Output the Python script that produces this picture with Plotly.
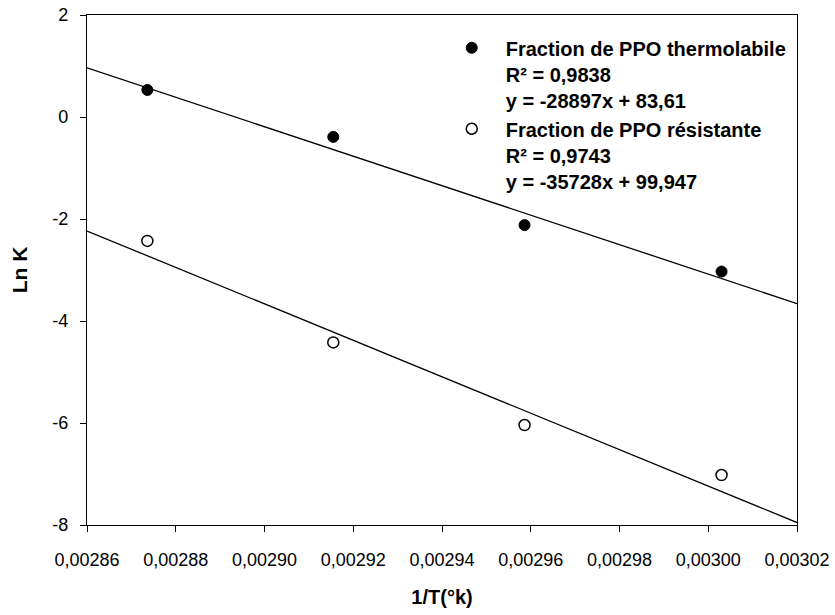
import numpy as np
import plotly.graph_objects as go

# 1/T (K^-1) and Ln K for the two PPO fractions
inv_T = [0.0028736, 0.0029155, 0.0029586, 0.0030030]
lnk_thermolabile = [0.53, -0.39, -2.12, -3.03]
lnk_resistante = [-2.43, -4.42, -6.04, -7.02]

# Linear regression coefficients (slope, intercept) and R²
fit_thermolabile = (-28897, 83.61)
fit_resistante = (-35728, 99.947)
r2_thermolabile = "0,9838"
r2_resistante = "0,9743"

x_range = [0.00286, 0.00302]
y_range = [-8, 2]
x_ticks = [0.00286, 0.00288, 0.00290, 0.00292, 0.00294, 0.00296, 0.00298, 0.00300, 0.00302]
x_ticklabels = ["0,00286", "0,00288", "0,00290", "0,00292", "0,00294",
                "0,00296", "0,00298", "0,00300", "0,00302"]
y_ticks = [-8, -6, -4, -2, 0, 2]
y_ticklabels = ["-8", "-6", "-4", "-2", "0", "2"]

FONT = "Liberation Sans, Arial, sans-serif"

xl = np.array(x_range)


def fit_line(coef):
    return coef[0] * xl + coef[1]


fig = go.Figure()

fig.add_trace(go.Scatter(
    x=xl, y=fit_line(fit_thermolabile), mode="lines",
    line=dict(color="black", width=1.3), showlegend=False, hoverinfo="skip"))
fig.add_trace(go.Scatter(
    x=xl, y=fit_line(fit_resistante), mode="lines",
    line=dict(color="black", width=1.3), showlegend=False, hoverinfo="skip"))

fig.add_trace(go.Scatter(
    x=inv_T, y=lnk_thermolabile, mode="markers", legendgroup="fits",
    marker=dict(symbol="circle", size=11, color="black",
                line=dict(color="black", width=1)),
    name=("Fraction de PPO thermolabile<br>R² = " + r2_thermolabile +
          "<br>y = -28897x + 83,61")))
fig.add_trace(go.Scatter(
    x=inv_T, y=lnk_resistante, mode="markers", legendgroup="fits",
    marker=dict(symbol="circle-open", size=11, color="black",
                line=dict(color="black", width=1.5)),
    name=("Fraction de PPO résistante<br>R² = " + r2_resistante +
          "<br>y = -35728x + 99,947")))

fig.update_layout(
    template="none",
    width=835, height=615,
    margin=dict(l=87, r=38, t=15, b=90, pad=0),
    paper_bgcolor="white", plot_bgcolor="white",
    font=dict(family=FONT, color="black", size=18),
    legend=dict(
        x=0.494, y=0.974, xanchor="left", yanchor="top",
        bgcolor="rgba(0,0,0,0)", borderwidth=0,
        font=dict(family=FONT, size=20, color="black", weight="bold"),
        valign="top", tracegroupgap=0, itemwidth=58,
    ),
    xaxis=dict(
        range=x_range, tickvals=x_ticks, ticktext=x_ticklabels,
        ticks="outside", ticklen=6, tickwidth=1.3, tickcolor="black",
        showline=True, linecolor="black", linewidth=1.3, mirror=True,
        showgrid=False, zeroline=False, automargin=False,
        ticklabelstandoff=12,
        tickfont=dict(family=FONT, size=18),
        title=dict(text="1/T(°k)", font=dict(family=FONT, size=20, weight="bold"),
                   standoff=21),
    ),
    yaxis=dict(
        range=y_range, tickvals=y_ticks, ticktext=y_ticklabels,
        ticks="outside", ticklen=6, tickwidth=1.3, tickcolor="black",
        showline=True, linecolor="black", linewidth=1.3, mirror=True,
        showgrid=False, zeroline=False, automargin=False,
        ticklabelstandoff=8,
        tickfont=dict(family=FONT, size=18),
        title=dict(text="Ln K", font=dict(family=FONT, size=21, weight="bold"),
                   standoff=18),
    ),
)

fig.write_html("out.html")
